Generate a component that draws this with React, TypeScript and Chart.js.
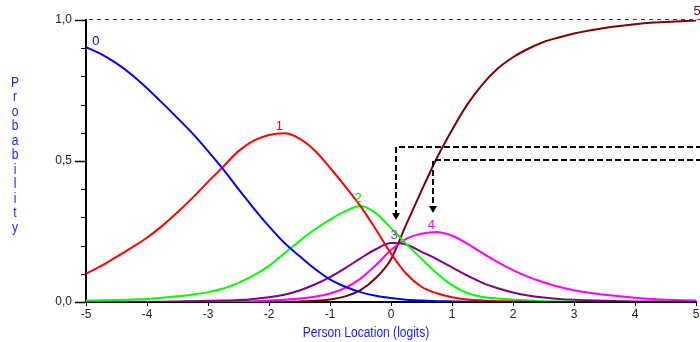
import { useEffect, useRef } from 'react';
import { Chart, registerables } from 'chart.js';

Chart.register(...registerables);

// Person location (logits), quarter-logit steps
const xValues = [
  -5, -4.75, -4.5, -4.25, -4, -3.75, -3.5, -3.25, -3, -2.75, -2.5, -2.25, -2, -1.75, -1.5, -1.25, -1, -0.75, -0.5, -0.25,
  0, 0.25, 0.5, 0.75, 1, 1.25, 1.5, 1.75, 2, 2.25, 2.5, 2.75, 3, 3.25, 3.5, 3.75, 4, 4.25, 4.5, 4.75, 5,
];

// Category probability curves
const cat0 = [
  0.904, 0.879, 0.846, 0.806, 0.758, 0.706, 0.652, 0.597, 0.535, 0.470, 0.400, 0.332, 0.268, 0.210, 0.163, 0.118, 0.080, 0.054, 0.035, 0.022,
  0.014, 0.008, 0.005, 0.003, 0.002, 0.001, 0.001, 0, 0, 0, 0, 0, 0, 0, 0, 0, 0, 0, 0, 0, 0,
];
const cat1 = [
  0.100, 0.128, 0.160, 0.193, 0.228, 0.270, 0.318, 0.370, 0.426, 0.480, 0.535, 0.572, 0.592, 0.598, 0.579, 0.537, 0.476, 0.410, 0.340, 0.258,
  0.172, 0.100, 0.054, 0.031, 0.017, 0.009, 0.005, 0.003, 0.002, 0.001, 0, 0, 0, 0, 0, 0, 0, 0, 0, 0, 0,
];
const cat2 = [
  0.005, 0.006, 0.007, 0.009, 0.011, 0.015, 0.020, 0.027, 0.035, 0.048, 0.068, 0.094, 0.128, 0.172, 0.216, 0.257, 0.292, 0.322, 0.340, 0.315,
  0.262, 0.206, 0.153, 0.102, 0.060, 0.032, 0.018, 0.012, 0.008, 0.005, 0.003, 0.002, 0.001, 0, 0, 0, 0, 0, 0, 0, 0,
];
const cat3 = [
  0, 0, 0, 0.001, 0.001, 0.001, 0.002, 0.003, 0.004, 0.005, 0.007, 0.011, 0.017, 0.026, 0.041, 0.062, 0.088, 0.120, 0.155, 0.187,
  0.209, 0.204, 0.178, 0.152, 0.123, 0.094, 0.068, 0.049, 0.034, 0.023, 0.016, 0.011, 0.008, 0.006, 0.004, 0.003, 0.002, 0.002, 0.001, 0.001, 0,
];
const cat4 = [
  0, 0, 0, 0, 0, 0, 0, 0.001, 0.001, 0.001, 0.002, 0.003, 0.005, 0.008, 0.012, 0.019, 0.030, 0.050, 0.083, 0.130,
  0.184, 0.224, 0.242, 0.248, 0.235, 0.207, 0.173, 0.141, 0.113, 0.089, 0.070, 0.054, 0.042, 0.033, 0.026, 0.020, 0.015, 0.011, 0.008, 0.006, 0.005,
];
const cat5 = [
  0, 0, 0, 0, 0, 0, 0, 0, 0, 0, 0, 0, 0, 0.001, 0.002, 0.004, 0.009, 0.020, 0.042, 0.085,
  0.152, 0.275, 0.395, 0.510, 0.610, 0.700, 0.772, 0.828, 0.868, 0.898, 0.922, 0.938, 0.952, 0.963, 0.972, 0.979, 0.985, 0.990, 0.993, 0.996, 0.998,
];

const seriesValues = [cat0, cat1, cat2, cat3, cat4, cat5];
const categoryNames = ['0', '1', '2', '3', '4', '5'];
const categoryColors = ['#0000ff', '#ff0000', '#00ff00', '#800080', '#ff00ff', '#800000'];
const labelColors = ['#0000ff', '#ff0000', '#00dd00', '#9933cc', '#ff00ff', '#800000'];

// Curve label anchors (logit, probability)
const labelX = [-4.84, -1.83, -0.54, 0.05, 0.66, 5.02];
const labelY = [0.924, 0.621, 0.367, 0.236, 0.272, 1.03];

// Annotation arrows: start of horizontal line (x, y) and arrow tip y
const arrowX = [0.08, 0.69];
const arrowY = [0.55, 0.503];
const arrowTipY = [0.29, 0.316];

const yTickValues = [0, 0.5, 1];
const yMinorValues = [0.1, 0.2, 0.3, 0.4, 0.6, 0.7, 0.8, 0.9];
const xTitle = 'Person Location (logits)';
const yTitle = 'Probability';

const FONT = '"Liberation Sans", Arial, sans-serif';

const decorPlugin = {
  id: 'decor',
  afterDraw(chart: any) {
    const { ctx, chartArea } = chart;
    const xs = chart.scales.x;
    const ys = chart.scales.y;
    ctx.save();

    // dashed 1.0 reference line
    ctx.strokeStyle = '#444';
    ctx.lineWidth = 1;
    ctx.setLineDash([4, 4]);
    const yOne = Math.round(ys.getPixelForValue(1)) - 0.5;
    ctx.beginPath();
    ctx.moveTo(chartArea.left + 3, yOne);
    ctx.lineTo(chart.width, yOne);
    ctx.stroke();

    // minor y ticks
    ctx.setLineDash([]);
    ctx.strokeStyle = '#000';
    ctx.lineWidth = 1;
    yMinorValues.forEach((v) => {
      const py = Math.round(ys.getPixelForValue(v)) + 0.5;
      ctx.beginPath();
      ctx.moveTo(chartArea.left - 5, py);
      ctx.lineTo(chartArea.left, py);
      ctx.stroke();
    });

    // annotation arrows
    ctx.strokeStyle = '#000';
    ctx.fillStyle = '#000';
    ctx.lineWidth = 2;
    arrowX.forEach((ax, i) => {
      const px = Math.round(xs.getPixelForValue(ax));
      const py = Math.round(ys.getPixelForValue(arrowY[i]));
      const tip = Math.round(ys.getPixelForValue(arrowTipY[i]));
      ctx.setLineDash([6, 3]);
      ctx.beginPath();
      ctx.moveTo(chart.width, py);
      ctx.lineTo(px, py);
      ctx.lineTo(px, tip - 6);
      ctx.stroke();
      ctx.setLineDash([]);
      ctx.beginPath();
      ctx.moveTo(px - 4, tip - 7);
      ctx.lineTo(px + 4, tip - 7);
      ctx.lineTo(px, tip);
      ctx.closePath();
      ctx.fill();
    });

    // curve labels
    ctx.font = `13px ${FONT}`;
    ctx.textAlign = 'center';
    ctx.textBaseline = 'middle';
    categoryNames.forEach((name, i) => {
      ctx.fillStyle = labelColors[i];
      ctx.fillText(name, xs.getPixelForValue(labelX[i]), ys.getPixelForValue(labelY[i]));
    });

    // stacked y-axis title (slightly condensed)
    ctx.fillStyle = '#1a1aff';
    ctx.font = `14px ${FONT}`;
    const letters = yTitle.split('');
    letters.forEach((ch, i) => {
      ctx.save();
      ctx.translate(15, 83 + i * 14.5);
      ctx.scale(0.86, 1);
      ctx.fillText(ch, 0, 0);
      ctx.restore();
    });

    // x-axis title (slightly condensed)
    ctx.save();
    ctx.translate((chartArea.left + chartArea.right) / 2 - 25, 333);
    ctx.scale(0.86, 1);
    ctx.fillText(xTitle, 0, 0);
    ctx.restore();

    ctx.restore();
  },
};

export default function App() {
  const canvasRef = useRef<HTMLCanvasElement | null>(null);

  useEffect(() => {
    if (!canvasRef.current) return;
    const datasets = seriesValues.map((vals, i) => ({
      label: categoryNames[i],
      data: xValues.map((x, j) => ({ x, y: vals[j] })),
      borderColor: categoryColors[i],
      backgroundColor: categoryColors[i],
      borderWidth: 2,
      pointRadius: 0,
      cubicInterpolationMode: 'monotone' as const,
      fill: false,
    }));

    const chart = new Chart(canvasRef.current, {
      type: 'line',
      data: { datasets },
      options: {
        animation: false,
        responsive: false,
        devicePixelRatio: 1,
        layout: { padding: { left: 0, right: 24, top: 20, bottom: 0 } },
        plugins: {
          legend: { display: false },
          tooltip: { enabled: false },
        },
        scales: {
          x: {
            type: 'linear',
            min: -5,
            max: 5,
            afterFit: (s: any) => {
              s.height = 40;
            },
            ticks: {
              stepSize: 1,
              color: '#222',
              font: { family: FONT, size: 12 },
              padding: 1,
              maxRotation: 0,
              callback: (v: any) => String(v),
            },
            grid: {
              display: true,
              drawOnChartArea: false,
              drawTicks: true,
              tickLength: 4,
              tickColor: '#000',
              tickWidth: 1,
            },
            border: { display: true, color: '#000', width: 2 },
          },
          y: {
            type: 'linear',
            min: 0,
            max: 1,
            afterFit: (s: any) => {
              s.width = 86;
            },
            afterBuildTicks: (s: any) => {
              s.ticks = yTickValues.map((v) => ({ value: v }));
            },
            ticks: {
              color: '#222',
              font: { family: FONT, size: 12 },
              padding: 3,
              callback: (v: any) => Number(v).toFixed(1).replace('.', ','),
            },
            grid: {
              display: true,
              drawOnChartArea: false,
              drawTicks: true,
              tickLength: 11,
              tickColor: '#000',
              tickWidth: 1.5,
            },
            border: { display: true, color: '#000', width: 2 },
          },
        },
      },
      plugins: [decorPlugin],
    });
    return () => chart.destroy();
  }, []);

  return (
    <div style={{ position: 'fixed', left: 0, top: 0, width: 700, height: 342, overflow: 'hidden', background: '#fff' }}>
      <canvas ref={canvasRef} width={720} height={342} style={{ display: 'block' }} />
    </div>
  );
}
